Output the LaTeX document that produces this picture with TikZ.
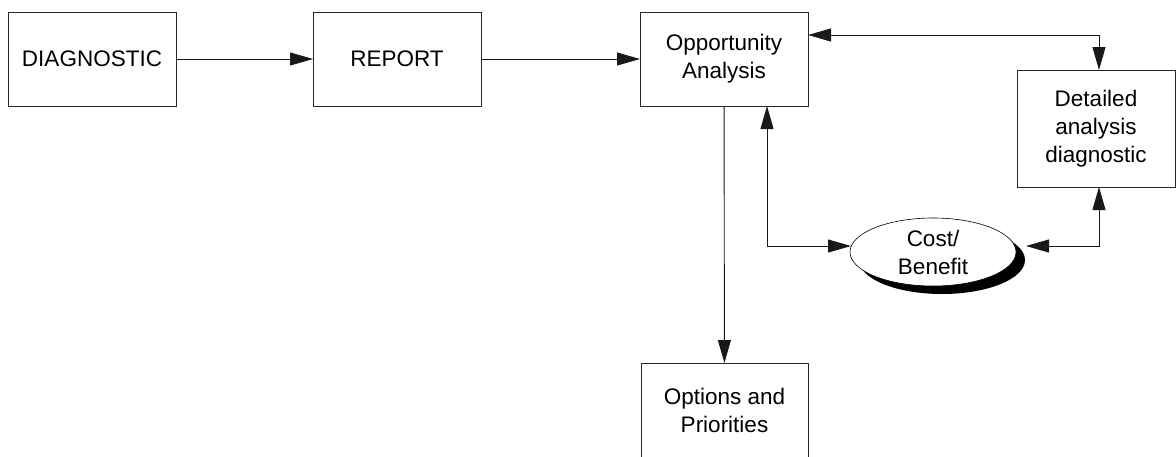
\documentclass[tikz,border=0pt]{standalone}
\usepackage{fontspec}
\setmainfont{Liberation Sans}
\usetikzlibrary{arrows.meta,shapes.geometric,shadows}
\begin{document}
\begin{tikzpicture}[x=1pt,y=-1pt,
  box/.style={draw=black!85,line width=0.9pt,minimum width=168pt,minimum height=94pt,inner sep=0pt,outer sep=0pt,align=center,font=\fontsize{22.5}{28}\selectfont},
  conn/.style={line width=0.9pt,black!90,-{Triangle[length=23pt,width=13pt]}},
  dconn/.style={line width=0.9pt,black!90,{Triangle[length=23pt,width=13pt]}-{Triangle[length=23pt,width=13pt]}},
  oval/.style={ellipse,draw,fill=white,line width=0.6pt,minimum width=166pt,minimum height=68pt,inner sep=0pt,outer sep=0pt,align=center,font=\fontsize{22.5}{28}\selectfont,
    drop shadow={shadow xshift=9pt,shadow yshift=-8pt,fill=black,opacity=1}}]
\useasboundingbox (0,0) rectangle (1176,456);
\node[box] (diag) at (92,59) {DIAGNOSTIC};
\node[box] (rep) at (397,59) {REPORT};
\node[box] (opp) at (724,59) {Opportunity\\Analysis};
\node[box,minimum width=158pt,minimum height=117pt] (det) at (1096,128.5) {Detailed\\analysis\\diagnostic};
\node[box,minimum width=167pt] (opt) at (724.5,410) {Options and\\Priorities};
\node[oval] (cb) at (933,252) {Cost/\\Benefit};
\coordinate (jr) at (1099,35);
\coordinate (ju) at (767,246);
\coordinate (jd) at (1099,246);
\draw[conn] (diag) -- (rep);
\draw[conn] (rep) -- (opp);
\draw[conn] (opp) -- (opt);
\draw[dconn] (opp.east |- jr) -- (jr) -- (jr |- det.north);
\draw[dconn] (ju |- opp.south) -- (ju) -- ([xshift=1pt]ju -| cb.west);
\draw[dconn] ([xshift=10pt]cb.east |- jd) -- (jd) -- (jd |- det.south);
\end{tikzpicture}
\end{document}
